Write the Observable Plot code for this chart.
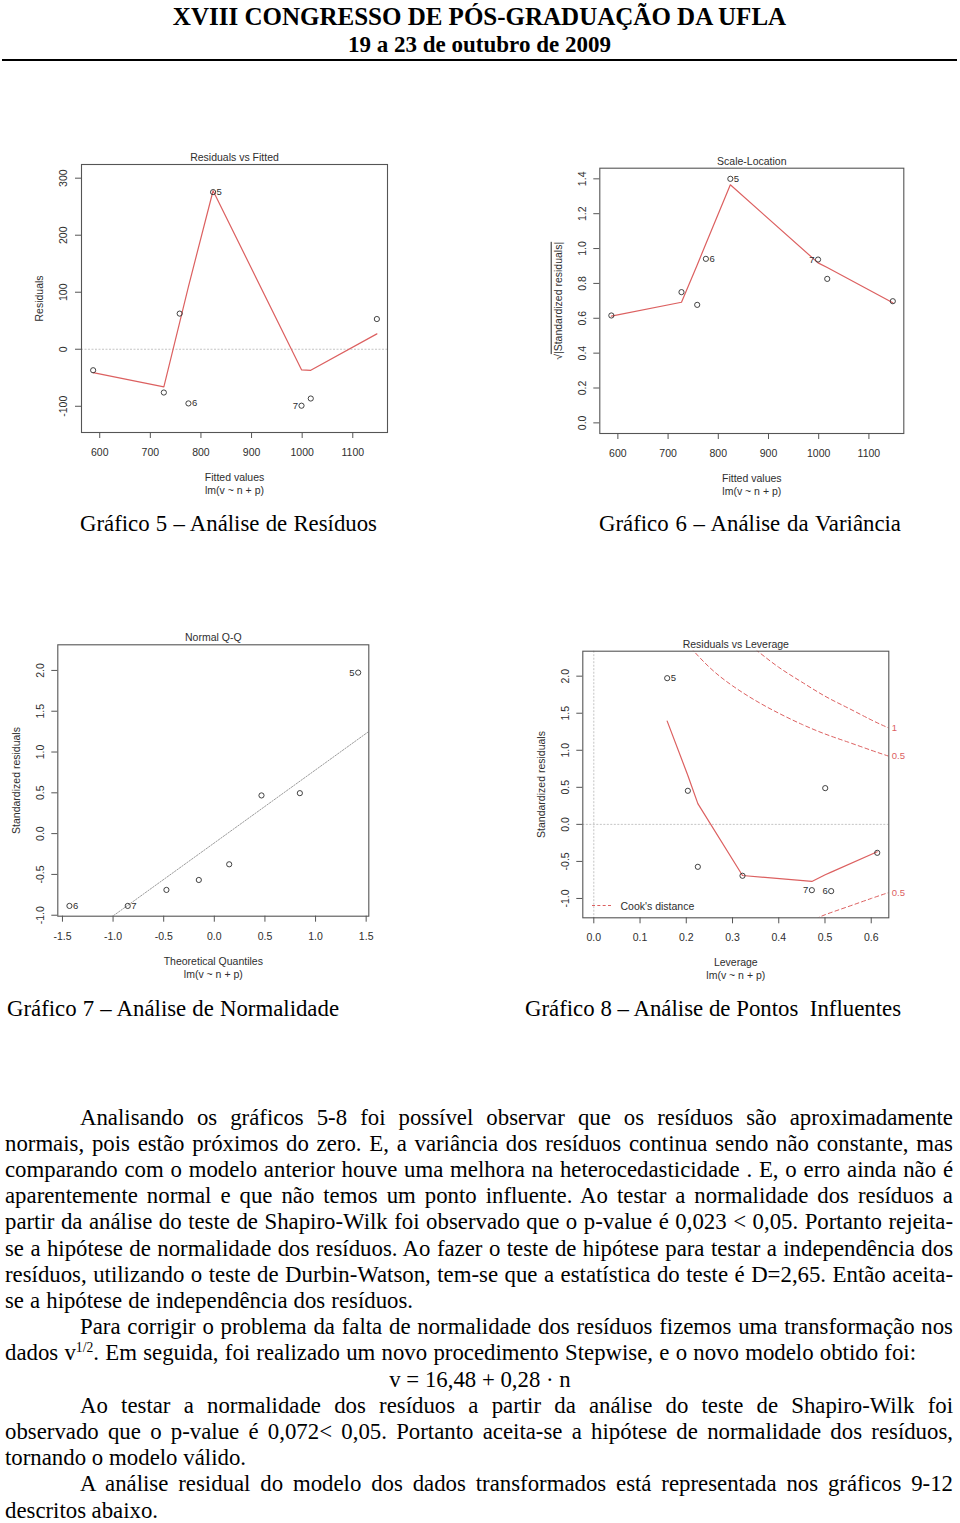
<!DOCTYPE html>
<html>
<head>
<meta charset="utf-8">
<script src="https://cdn.jsdelivr.net/npm/d3@7"></script>
<script src="https://cdn.jsdelivr.net/npm/@observablehq/plot@0.6"></script>
<style>
  html, body { margin: 0; padding: 0; background: #fff; }
  #page { position: relative; width: 960px; height: 1523px; overflow: hidden; background: #fff;
          font-family: "Liberation Serif", "Times New Roman", serif; color: #000; }
  .ln { position: absolute; white-space: pre; }
  .ln sup { font-size: 0.6em; vertical-align: 0.55em; line-height: 0; }
  .plotbox { position: absolute; }
  .plotbox svg { overflow: visible; }
</style>
</head>
<body>
<div id="page"></div>
<script>
// ---------------- DATA ----------------
const MODEL_FORMULA = "lm(v ~ n + p)";

// Gráfico 5 – Residuals vs Fitted
const fittedValues   = [587.0, 726.7, 758.0, 775.3, 824.0, 998.7, 1017.0, 1147.6];
const residuals      = [-36.8, -75.9, 62.5, -95.0, 275.6, -99.0, -86.4, 53.0];
const residualSmooth = [-41, -66, 47, 110, 278, -36, -37, 27];
const fittedLabels   = ["", "", "", "6", "5", "7", "", ""];

// Gráfico 6 – Scale-Location
const sqrtStdResiduals = [0.616, 0.750, 0.677, 0.941, 1.400, 0.937, 0.826, 0.698];
const scaleSmooth      = [0.612, 0.692, 0.906, 1.027, 1.366, 0.918, 0.891, 0.689];

// Gráfico 7 – Normal Q-Q
const theoreticalQuantiles = [-1.431, -0.855, -0.473, -0.153, 0.147, 0.466, 0.845, 1.421];
const qqStdResiduals       = [-0.886, -0.886, -0.690, -0.568, -0.376, 0.468, 0.496, 1.973];
const qqLabels             = ["6", "7", "", "", "", "", "", "5"];
const qqLineSlope = 0.895, qqLineIntercept = -0.114;

// Gráfico 8 – Residuals vs Leverage
const leverage        = [0.1587, 0.2034, 0.225, 0.3216, 0.4716, 0.5005, 0.5134, 0.613];
const levStdResiduals = [1.973, 0.453, -0.573, -0.694, -0.888, 0.489, -0.901, -0.384];
const leverageSmooth  = [1.393, 0.66, 0.28, -0.69, -0.77, -0.68, -0.645, -0.37];
const leverageLabels  = ["5", "", "", "", "7", "", "6", ""];
// Cook's distance contours
const cook1H     = [0.35, 0.40, 0.45, 0.50, 0.55, 0.60, 0.638];
const cook1R     = [2.36, 2.12, 1.92, 1.73, 1.57, 1.41, 1.30];
const cook05H    = [0.20, 0.25, 0.30, 0.35, 0.40, 0.45, 0.50, 0.55, 0.60, 0.638];
const cook05R    = [2.45, 2.12, 1.87, 1.67, 1.50, 1.35, 1.22, 1.11, 1.00, 0.92];
const cook05LowH = [0.48, 0.50, 0.55, 0.60, 0.638];
const cook05LowR = [-1.28, -1.22, -1.11, -1.00, -0.92];
const cookLevelLabels = ["1", "0.5", "0.5"];

// Tick values
const fittedTicks = [600, 700, 800, 900, 1000, 1100];
const residTicks  = [-100, 0, 100, 200, 300];
const sqrtTicks   = [0, 0.2, 0.4, 0.6, 0.8, 1.0, 1.2, 1.4];
const qqXTicks    = [-1.5, -1.0, -0.5, 0, 0.5, 1.0, 1.5];
const stdTicks    = [-1.0, -0.5, 0, 0.5, 1.0, 1.5, 2.0];
const levTicks    = [0, 0.1, 0.2, 0.3, 0.4, 0.5, 0.6];

// Page texts
const headerTitle = "XVIII CONGRESSO DE PÓS-GRADUAÇÃO DA UFLA";
const headerDate  = "19 a 23 de outubro de 2009";
const captions = [
  "Gráfico 5 – Análise de Resíduos",
  "Gráfico 6 – Análise da Variância",
  "Gráfico 7 – Análise de Normalidade",
  "Gráfico 8 – Análise de Pontos  Influentes"
];
const paragraphLines = [
  "Analisando os gráficos 5-8 foi possível observar que os resíduos são aproximadamente",
  "normais, pois estão próximos do zero. E, a variância dos resíduos continua sendo não constante, mas",
  "comparando com o modelo anterior houve uma melhora na heterocedasticidade . E, o erro ainda não é",
  "aparentemente normal e que não temos um ponto influente. Ao testar a normalidade dos resíduos a",
  "partir da análise do teste de Shapiro-Wilk foi observado que o p-value é 0,023 < 0,05. Portanto rejeita-",
  "se a hipótese de normalidade dos resíduos. Ao fazer o teste de hipótese para testar a independência dos",
  "resíduos, utilizando o teste de Durbin-Watson, tem-se que a estatística do teste é D=2,65. Então aceita-",
  "se a hipótese de independência dos resíduos.",
  "Para corrigir o problema da falta de normalidade dos resíduos fizemos uma transformação nos",
  "dados v<sup>1/2</sup>. Em seguida, foi realizado um novo procedimento Stepwise, e o novo modelo obtido foi:",
  "v = 16,48 + 0,28 · n",
  "Ao testar a normalidade dos resíduos a partir da análise do teste de Shapiro-Wilk foi",
  "observado que o p-value é 0,072< 0,05. Portanto aceita-se a hipótese de normalidade dos resíduos,",
  "tornando o modelo válido.",
  "A análise residual do modelo dos dados transformados está representada nos gráficos 9-12",
  "descritos abaixo."
];

// ---------------- STYLE / LAYOUT ----------------
const RED = "#dc6060";
const INK = "#2e2e2e";
const BOX = "#555";
const PAGE = document.getElementById("page");
const BODY_SIZE = 22.8, LINE_H = 16;

function addText(content, o) {
  const d = document.createElement("div");
  d.className = "ln";
  d.style.fontSize = (o.size || BODY_SIZE) + "px";
  d.style.lineHeight = LINE_H + "px";
  if (o.bold) d.style.fontWeight = "bold";
  if (o.html) d.innerHTML = content; else d.textContent = content;
  d.style.top = (o.cy - LINE_H / 2) + "px";
  d.style.left = "0px";
  PAGE.appendChild(d);
  const w = d.getBoundingClientRect().width;
  if (o.center != null) { d.style.left = (o.center - w / 2) + "px"; return d; }
  d.style.left = o.left + "px";
  if (o.right != null) {
    const n = (d.textContent.match(/ /g) || []).length;
    if (n) d.style.wordSpacing = ((o.right - o.left - w) / n) + "px";
  }
  return d;
}

// header
addText(headerTitle, {cy: 17, center: 479.5, size: 25, bold: true});
addText(headerDate, {cy: 45, center: 479.5, size: 23, bold: true});
const rule = document.createElement("div");
rule.style.cssText = "position:absolute;left:2px;top:59px;width:955px;height:2px;background:#000";
PAGE.appendChild(rule);

// captions
const captionLayout = [[80, 377, 524], [599, 901, 524], [7, 339, 1009], [525, 901, 1009]];
captions.forEach((c, i) => addText(c, {left: captionLayout[i][0], right: captionLayout[i][1], cy: captionLayout[i][2]}));

// paragraph
const lineLayout = [
  {left: 80, right: 953}, {left: 5, right: 953}, {left: 5, right: 953}, {left: 5, right: 953},
  {left: 5, right: 953}, {left: 5, right: 953}, {left: 5, right: 953}, {left: 5, right: 413},
  {left: 80, right: 953}, {left: 5, right: 916, html: true}, {center: 480},
  {left: 80, right: 953}, {left: 5, right: 953}, {left: 5, right: 246},
  {left: 80, right: 953}, {left: 5, right: 158}
];
paragraphLines.forEach((t, i) => addText(t, {...lineLayout[i], cy: 1117.5 + i * 26.2}));

// ---------------- PLOTS ----------------
const AX = {titleDy: -7, tickDy: 20, xlabDy: 45, lmDy: 58, ytickDx: -17.5, ylabDx: -41.5};
const CENTER = {textAnchor: "middle", lineAnchor: "middle"};
const fmt1 = d => d.toFixed(1);

function rPlot(cfg) {
  return Plot.plot({
    width: cfg.width, height: cfg.height,
    marginTop: cfg.m[0], marginRight: cfg.m[1], marginBottom: cfg.m[2], marginLeft: cfg.m[3],
    x: {domain: cfg.xDomain},
    y: {domain: cfg.yDomain},
    style: {fontFamily: "'Liberation Sans', Arial, sans-serif", fontSize: "10.5px", color: INK, background: "transparent", overflow: "visible"},
    marks: [
      ...cfg.marks,
      Plot.frame({stroke: BOX, strokeWidth: 1.1}),
      Plot.axisX(cfg.xTicks, {tickSize: 6, tickFormat: () => "", label: null, stroke: BOX}),
      Plot.axisY(cfg.yTicks, {tickSize: 6, tickFormat: () => "", label: null, stroke: BOX}),
      Plot.text(cfg.xTicks, {x: d => d, text: cfg.xFmt || (d => String(d)), frameAnchor: "bottom", dy: AX.tickDy, ...CENTER}),
      Plot.text(cfg.yTicks, {y: d => d, text: cfg.yFmt || (d => String(d)), frameAnchor: "left", dx: AX.ytickDx, rotate: -90, ...CENTER}),
      Plot.text([cfg.title], {text: d => d, frameAnchor: "top", dy: AX.titleDy, ...CENTER}),
      Plot.text([cfg.xLabel], {text: d => d, frameAnchor: "bottom", dy: AX.xlabDy, ...CENTER}),
      Plot.text([MODEL_FORMULA], {text: d => d, frameAnchor: "bottom", dy: AX.lmDy, ...CENTER}),
      Plot.text([cfg.yLabel], {text: d => d, frameAnchor: "left", dx: AX.ylabDx, rotate: -90, ...CENTER})
    ]
  });
}

function pointMarks(rows) {
  const xs = rows.map(d => d.x);
  const mid = (d3.min(xs) + d3.max(xs)) / 2;
  return [
    Plot.dot(rows, {x: "x", y: "y", r: 2.6, stroke: INK, strokeWidth: 0.9, fill: "none"}),
    Plot.text(rows.filter(d => d.label && d.x < mid), {x: "x", y: "y", text: "label", textAnchor: "start", dx: 3.5, fontSize: 9.5}),
    Plot.text(rows.filter(d => d.label && d.x >= mid), {x: "x", y: "y", text: "label", textAnchor: "end", dx: -3.5, fontSize: 9.5})
  ];
}

function mount(svg, left, top) {
  const d = document.createElement("div");
  d.className = "plotbox";
  d.style.left = left + "px";
  d.style.top = top + "px";
  d.appendChild(svg);
  PAGE.appendChild(d);
  return svg;
}

// Gráfico 5
const rows5 = fittedValues.map((x, i) => ({x, y: residuals[i], s: residualSmooth[i], label: fittedLabels[i]}));
mount(rPlot({
  width: 400, height: 370, m: [24, 13, 78, 81],
  xDomain: [564, 1168.6], yDomain: [-146, 324],
  xTicks: fittedTicks, yTicks: residTicks,
  title: "Residuals vs Fitted", xLabel: "Fitted values", yLabel: "Residuals",
  marks: [
    Plot.ruleY([0], {stroke: "#c4c4c4", strokeDasharray: "2,1.5"}),
    Plot.line(rows5, {x: "x", y: "s", stroke: RED, strokeWidth: 1.2}),
    ...pointMarks(rows5)
  ]
}), 0, 140);

// Gráfico 6
const rows6 = fittedValues.map((x, i) => ({x, y: sqrtStdResiduals[i], s: scaleSmooth[i], label: fittedLabels[i]}));
const svg6 = mount(rPlot({
  width: 390, height: 370, m: [22.7, 16.7, 82, 69.3],
  xDomain: [564, 1169.5], yDomain: [-0.061, 1.461],
  xTicks: fittedTicks, yTicks: sqrtTicks, yFmt: fmt1,
  title: "Scale-Location", xLabel: "Fitted values", yLabel: "√|Standardized residuals|",
  marks: [
    Plot.line(rows6, {x: "x", y: "s", stroke: RED, strokeWidth: 1.2}),
    ...pointMarks(rows6)
  ]
}), 530, 145);
// sqrt with overline
for (const t of svg6.querySelectorAll("text")) {
  if (t.textContent === "√|Standardized residuals|") {
    t.textContent = "";
    const a = document.createElementNS("http://www.w3.org/2000/svg", "tspan");
    a.textContent = "√";
    const b = document.createElementNS("http://www.w3.org/2000/svg", "tspan");
    b.textContent = "|Standardized residuals|";
    b.setAttribute("text-decoration", "overline");
    b.style.textDecoration = "overline";
    t.appendChild(a); t.appendChild(b);
  }
}

// Gráfico 7
const rows7 = theoreticalQuantiles.map((x, i) => ({x, y: qqStdResiduals[i], label: qqLabels[i]}));
const qqDomainX = [-1.546, 1.526];
const qqLinePts = qqDomainX.map(x => ({x, y: qqLineIntercept + qqLineSlope * x}));
mount(rPlot({
  width: 390, height: 370, m: [19.3, 21.7, 79.3, 57.3],
  xDomain: qqDomainX, yDomain: [-1.012, 2.314],
  xTicks: qqXTicks, yTicks: stdTicks, xFmt: fmt1, yFmt: fmt1,
  title: "Normal Q-Q", xLabel: "Theoretical Quantiles", yLabel: "Standardized residuals",
  marks: [
    Plot.line(qqLinePts, {x: "x", y: "y", stroke: "#9a9a9a", strokeWidth: 1, strokeDasharray: "1.5,1.5", clip: true}),
    ...pointMarks(rows7)
  ]
}), 0, 625);

// Gráfico 8
const rows8 = leverage.map((x, i) => ({x, y: levStdResiduals[i], s: leverageSmooth[i], label: leverageLabels[i]}));
const cookCurves = [
  cook1H.map((h, i) => ({h, r: cook1R[i], level: cookLevelLabels[0]})),
  cook05H.map((h, i) => ({h, r: cook05R[i], level: cookLevelLabels[1]})),
  cook05LowH.map((h, i) => ({h, r: cook05LowR[i], level: cookLevelLabels[2]}))
];
const cookEnds = cookCurves.map(c => c[c.length - 1]);
mount(rPlot({
  width: 400, height: 370, m: [20.7, 31.7, 82.7, 62.3],
  xDomain: [-0.0238, 0.638], yDomain: [-1.261, 2.337],
  xTicks: levTicks, yTicks: stdTicks, xFmt: fmt1, yFmt: fmt1,
  title: "Residuals vs Leverage", xLabel: "Leverage", yLabel: "Standardized residuals",
  marks: [
    Plot.ruleY([0], {stroke: "#c4c4c4", strokeDasharray: "2,1.5"}),
    Plot.ruleX([0], {stroke: "#c4c4c4", strokeDasharray: "2,1.5"}),
    ...cookCurves.map(c => Plot.line(c, {x: "h", y: "r", curve: "natural", stroke: RED, strokeWidth: 1, strokeDasharray: "4,3", clip: true})),
    Plot.text(cookEnds, {x: "h", y: "r", text: "level", textAnchor: "start", dx: 3, fill: RED, fontSize: 9.5}),
    Plot.line(rows8, {x: "x", y: "s", stroke: RED, strokeWidth: 1.2}),
    ...pointMarks(rows8),
    Plot.text(["Cook's distance"], {text: d => d, frameAnchor: "bottom-left", dx: 37.7, dy: -11.5, textAnchor: "start", lineAnchor: "middle"})
  ]
}), 520, 630);
// legend key for Cook's distance
const key = document.createElement("div");
key.style.cssText = `position:absolute;left:591.5px;top:905px;width:19px;height:0;border-top:1px dashed ${RED}`;
PAGE.appendChild(key);
</script>
</body>
</html>
